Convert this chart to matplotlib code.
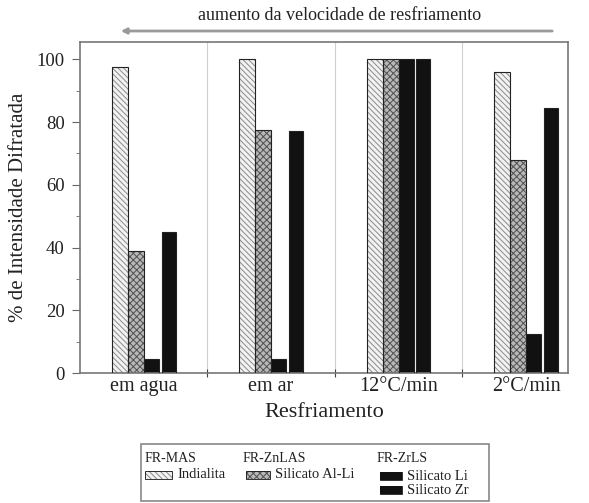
import matplotlib.pyplot as plt
from matplotlib.patches import Rectangle
import numpy as np

plt.rcParams['font.family'] = ['Liberation Serif', 'DejaVu Serif']
plt.rcParams['hatch.linewidth'] = 0.7

# dados
categorias = ['em agua', 'em ar', '12°C/min', '2°C/min']
indialita = [97.5, 100, 100, 96]
silicato_al_li = [39, 77.5, 100, 68]
silicato_li = [4.5, 4.5, 100, 12.5]
silicato_zr = [45, 77, 100, 84.5]

series = [
    ('Indialita', indialita, '#f2f2f2', '#8a8a8a', '\\\\\\\\\\\\'),
    ('Silicato Al-Li', silicato_al_li, '#b8b8b8', '#505050', 'xxxxx'),
    ('Silicato Li', silicato_li, '#111111', '#111111', ''),
    ('Silicato Zr', silicato_zr, '#111111', '#111111', ''),
]

cor_texto = '#222222'
W, H = 589, 503
fig = plt.figure(figsize=(W / 100, H / 100), dpi=100)
ax = fig.add_axes([80 / W, 1 - 373 / H, (568 - 80) / W, (373 - 42) / H])

x = np.arange(len(categorias))
largura = [0.125, 0.125, 0.12, 0.11]
desloc = [-0.1875, -0.0625, 0.06, 0.195]

for (nome, vals, face, hcor, hatch), d, w in zip(series, desloc, largura):
    ax.bar(x + d, vals, w, color=face, edgecolor=hcor, hatch=hatch,
           linewidth=0, zorder=2)
    ax.bar(x + d, vals, w, fill=False, edgecolor='#222222',
           linewidth=0.8, zorder=3)

for b in [0.5, 1.5, 2.5]:
    ax.axvline(b, color='#d0d0d0', linewidth=0.8, zorder=1)

ax.set_xlim(-0.5, 3.33)
ax.set_ylim(0, 105.5)
ax.set_xticks([0.5, 1.5, 2.5])
ax.set_xticklabels([])
ax.set_xticks(x, minor=True)
ax.set_xticklabels(categorias, minor=True, fontsize=14.5, color=cor_texto)
ax.tick_params(axis='x', which='minor', length=0, pad=3)
ax.tick_params(axis='x', which='major', direction='inout', length=6, color='#444')
ax.set_yticks(range(0, 101, 20))
ax.set_yticks(range(10, 101, 20), minor=True)
ax.tick_params(axis='y', which='major', direction='out', length=6, pad=5,
               labelsize=13.5, labelcolor=cor_texto, color='#666')
ax.tick_params(axis='y', which='minor', direction='out', length=3, color='#666')
for s in ax.spines.values():
    s.set_color('#777777')
    s.set_linewidth(1.2)

ax.set_xlabel('Resfriamento', fontsize=16, color=cor_texto, labelpad=5)
ax.set_ylabel('% de Intensidade Difratada', fontsize=15, color=cor_texto, labelpad=6)

# seta superior
ax.annotate('', xy=(118 / W, 1 - 31 / H), xycoords='figure fraction',
            xytext=(555 / W, 1 - 31 / H), textcoords='figure fraction',
            arrowprops=dict(arrowstyle='-|>', color='#9a9a9a', lw=2,
                            mutation_scale=8))
fig.text(340 / W, 1 - 15 / H, 'aumento da velocidade de resfriamento',
         ha='center', va='center', fontsize=13, color=cor_texto)

# legenda
def px(xp, yp):
    return xp / W, 1 - yp / H

fig.add_artist(Rectangle(px(141, 501), (489 - 141) / W, (501 - 444) / H,
                         transform=fig.transFigure, fill=False,
                         edgecolor='#888888', linewidth=1.2))

titulos = [('FR-MAS', 145), ('FR-ZnLAS', 243), ('FR-ZrLS', 377)]
for t, xp in titulos:
    fig.text(*px(xp, 459), t, fontsize=10, va='center', ha='left', color=cor_texto)

entradas = [(0, 145, 475, 27), (1, 246, 475, 24), (2, 380, 476, 22), (3, 380, 490, 22)]
for i, xp, yp, wl in entradas:
    nome, vals, face, hcor, hatch = series[i]
    fig.add_artist(Rectangle(px(xp, yp + 4), wl / W, 8 / H,
                             transform=fig.transFigure, facecolor=face,
                             edgecolor=hcor, hatch=hatch, linewidth=0))
    fig.add_artist(Rectangle(px(xp, yp + 4), wl / W, 8 / H,
                             transform=fig.transFigure, fill=False,
                             edgecolor='#111111', linewidth=0.6))
    fig.text(*px(xp + wl + 5, yp), nome, fontsize=10.5, va='center', ha='left',
             color=cor_texto)

fig.savefig('out.png', dpi=100)
